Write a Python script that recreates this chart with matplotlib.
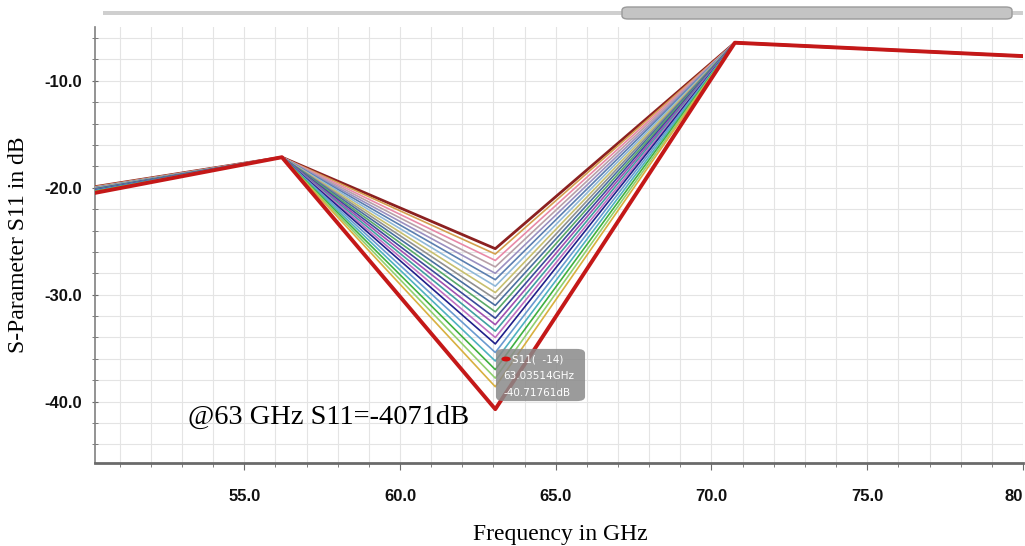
import matplotlib
matplotlib.use("Agg")

import matplotlib.pyplot as plt
from matplotlib.patches import FancyBboxPatch, Circle
from matplotlib.ticker import MultipleLocator

# frequency sweep points (GHz)
freq_ghz = [50.0, 56.21, 63.06, 70.75, 80.0]

# per-curve S11 values (dB), top curve first
s11_start = [-20.0, -20.0, -20.05, -20.05, -20.1, -20.1, -20.15, -20.15, -20.2, -20.2, -20.25,
             -20.25, -20.3, -20.3, -20.35, -20.35, -20.4, -20.4, -20.45, -20.5, -20.5, -20.6]
s11_knee = [-17.15] * 22
s11_min = [-25.7, -26.2, -26.8, -27.4, -28.0, -28.6, -29.2, -29.8, -30.4, -31.0, -31.6,
           -32.2, -32.8, -33.4, -34.0, -34.6, -35.4, -36.2, -37.0, -37.8, -38.6, -40.7]
s11_peak = [-6.45] * 22
s11_end = [-7.7] * 22

colors = ["#8b2020", "#d4a050", "#e88aa8", "#b8a0a8", "#9a90c0", "#5b7fb0", "#8fb8d8",
          "#c8c070", "#909090", "#4a6fa0", "#5aaa6a", "#3a4a9a", "#a050b0", "#40a0a0",
          "#c070c0", "#20208a", "#6a9ad0", "#50b0c0", "#40b040", "#90d070", "#d8b040",
          "#c41818"]

fig = plt.figure(figsize=(10.25, 5.46), dpi=100)
ax = fig.add_axes([95 / 1025, 1 - 463 / 546, 928 / 1025, 436 / 546])

for i in range(len(s11_min)):
    vals = [s11_start[i], s11_knee[i], s11_min[i], s11_peak[i], s11_end[i]]
    lw = 1.2
    if i == 0:
        lw = 2.0
    if i == len(s11_min) - 1:
        lw = 2.8
    ax.plot(freq_ghz, vals, color=colors[i], linewidth=lw, zorder=3 + i)

ax.set_xlim(50.21, 80.0)
ax.set_ylim(-45.73, -4.98)

ax.xaxis.set_major_locator(MultipleLocator(5))
ax.xaxis.set_minor_locator(MultipleLocator(1))
ax.yaxis.set_major_locator(MultipleLocator(10))
ax.yaxis.set_minor_locator(MultipleLocator(2))
ax.xaxis.set_major_formatter(lambda v, p: "80" if v >= 79.9 else f"{v:.1f}")
ax.yaxis.set_major_formatter(lambda v, p: f"{v:.1f}")

ax.grid(which="both", color="#e4e4e4", linewidth=0.8, zorder=0)
ax.set_axisbelow(True)

for s in ["top", "right"]:
    ax.spines[s].set_visible(False)
ax.spines["bottom"].set_color("#6a6a6a")
ax.spines["bottom"].set_linewidth(2.0)
ax.spines["left"].set_color("#808080")
ax.spines["left"].set_linewidth(1.2)

ax.tick_params(axis="x", which="both", direction="out", colors="#6a6a6a", length=3, pad=14)
ax.tick_params(axis="x", which="major", length=5)
ax.tick_params(axis="y", which="both", direction="inout", colors="#6a6a6a", length=5, pad=7)
fig.canvas.draw()
for lab in ax.get_xticklabels() + ax.get_yticklabels():
    lab.set_fontweight("bold")
    lab.set_fontsize(12)
    lab.set_color("#111111")
    lab.set_family("Liberation Sans")
for lab in ax.get_xticklabels():
    if lab.get_text() == "80":
        lab.set_horizontalalignment("right")

ax.set_xlabel("Frequency in GHz", family="Liberation Serif", fontsize=17)
ax.set_ylabel("S-Parameter S11 in dB", family="Liberation Serif", fontsize=17)
ax.xaxis.set_label_coords(0.501, -0.14)
ax.yaxis.set_label_coords(-0.071, 0.5)

ax.text(53.2, -41.5, "@63 GHz S11=-4071dB", family="Liberation Serif", fontsize=20.5,
        va="center", ha="left", zorder=40)

# tooltip at the minimum of the last curve
tip = FancyBboxPatch((498 / 1025, 1 - 400 / 546), 85 / 1025, 50 / 546,
                     boxstyle="round,pad=0.002,rounding_size=0.008",
                     transform=fig.transFigure, facecolor="#8a8a8a", alpha=0.85,
                     edgecolor="none", zorder=50)
fig.add_artist(tip)
fig.add_artist(Circle((506 / 1025, 1 - 359 / 546), 0.0045, transform=fig.transFigure,
                      facecolor="#d01010", edgecolor="none", zorder=51))
fig.text(512 / 1025, 1 - 359 / 546, "S11(  -14)", fontsize=7.5, color="white",
         va="center", zorder=52)
fig.text(503 / 1025, 1 - 376 / 546, "63.03514GHz", fontsize=7.5, color="white",
         va="center", zorder=52)
fig.text(503 / 1025, 1 - 393 / 546, "-40.71761dB", fontsize=7.5, color="white",
         va="center", zorder=52)

# scrollbar on top
fig.add_artist(FancyBboxPatch((103 / 1025, 1 - 15 / 546), 920 / 1025, 4 / 546,
                              boxstyle="round,pad=0", transform=fig.transFigure,
                              facecolor="#cfcfcf", edgecolor="none"))
fig.add_artist(FancyBboxPatch((622 / 1025, 1 - 19 / 546), 390 / 1025, 12 / 546,
                              boxstyle="round,pad=0,rounding_size=0.006",
                              transform=fig.transFigure, facecolor="#c4c4c4",
                              edgecolor="#9a9a9a", linewidth=1))

fig.savefig("out.png", dpi=100)
plt.close(fig)
